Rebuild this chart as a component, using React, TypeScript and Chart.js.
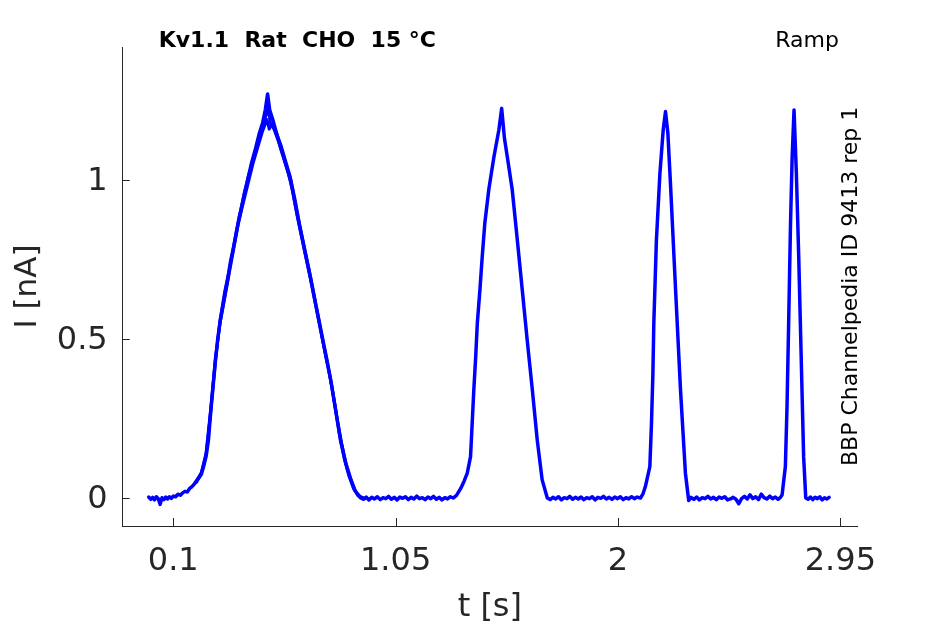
import { useEffect, useRef } from "react";
import { Chart, registerables } from "chart.js";

Chart.register(...registerables);

// ---- axis ticks ----
const xTickValues = [0.1, 1.05, 2, 2.95];
const xTickLabels = ["0.1", "1.05", "2", "2.95"];
const yTickValues = [0, 0.5, 1];
const yTickLabels = ["0", "0.5", "1"];

// ---- texts ----
const titleText = "Kv1.1  Rat  CHO  15 °C";
const protocolText = "Ramp";
const sideText = "BBP Channelpedia ID 9413 rep 1";
const xTitle = "t [s]";
const yTitle = "I [nA]";

// ---- data: [time s, current nA] ----
const pulse1Main: [number, number][] = [
  [-0.005, 0.003], [0.004, -0.004], [0.012, 0.002], [0.02, -0.006], [0.028, 0.004], [0.036, -0.002],
  [0.044, -0.02], [0.052, 0.001], [0.06, -0.005], [0.068, 0.003], [0.076, -0.003], [0.084, 0.004],
  [0.092, -0.001], [0.1, 0.006], [0.11, 0.004], [0.12, 0.012], [0.13, 0.009], [0.14, 0.016],
  [0.15, 0.021], [0.16, 0.019], [0.17, 0.03], [0.18, 0.036], [0.19, 0.044], [0.2, 0.055],
  [0.21, 0.064], [0.22, 0.075], [0.23, 0.1], [0.24, 0.13], [0.25, 0.18], [0.26, 0.27],
  [0.27, 0.35], [0.28, 0.43], [0.29, 0.5], [0.3, 0.555], [0.311, 0.6], [0.322, 0.645],
  [0.333, 0.69], [0.345, 0.745], [0.358, 0.79], [0.372, 0.845], [0.388, 0.9], [0.403, 0.955],
  [0.418, 1.0], [0.435, 1.055], [0.452, 1.1], [0.467, 1.145], [0.482, 1.18], [0.493, 1.22],
  [0.503, 1.27], [0.512, 1.22], [0.525, 1.19], [0.54, 1.15], [0.559, 1.1], [0.58, 1.05],
  [0.601, 1.0], [0.622, 0.92], [0.644, 0.84], [0.665, 0.765], [0.687, 0.69], [0.708, 0.61],
  [0.73, 0.53], [0.752, 0.45], [0.773, 0.37], [0.795, 0.27], [0.815, 0.18], [0.837, 0.11],
  [0.858, 0.06], [0.875, 0.025], [0.89, 0.008], [0.901, 0.0],
];

const baseline1: [number, number][] = [
  [0.912, -0.004], [0.924, 0.003], [0.936, -0.006], [0.948, 0.002], [0.96, -0.003], [0.972, 0.004],
  [0.984, -0.005], [0.996, 0.001], [1.008, -0.002], [1.02, 0.005], [1.032, -0.004], [1.044, 0.002],
  [1.056, -0.006], [1.068, 0.003], [1.08, -0.001], [1.092, 0.004], [1.104, -0.005], [1.116, 0.002],
  [1.128, -0.003], [1.14, 0.006], [1.152, -0.002], [1.164, 0.001], [1.176, -0.005], [1.188, 0.003],
  [1.2, -0.002], [1.212, 0.005], [1.224, -0.004], [1.236, 0.002], [1.248, -0.006], [1.26, 0.001],
  [1.272, -0.003], [1.284, 0.004], [1.296, 0.0],
];

const pulse2: [number, number][] = [
  [1.31, 0.008], [1.328, 0.03], [1.342, 0.052], [1.356, 0.078], [1.37, 0.13], [1.377, 0.235],
  [1.384, 0.34], [1.392, 0.444], [1.399, 0.55], [1.41, 0.654], [1.42, 0.76], [1.431, 0.864],
  [1.448, 0.97], [1.47, 1.073], [1.491, 1.157], [1.503, 1.225], [1.515, 1.13], [1.527, 1.073],
  [1.548, 0.97], [1.57, 0.81], [1.591, 0.654], [1.612, 0.497], [1.634, 0.34], [1.655, 0.182],
  [1.676, 0.057], [1.698, 0.0],
];

const baseline2: [number, number][] = [
  [1.71, -0.005], [1.722, 0.002], [1.734, -0.003], [1.746, 0.004], [1.758, -0.006], [1.77, 0.001],
  [1.782, -0.002], [1.794, 0.005], [1.806, -0.004], [1.818, 0.002], [1.83, -0.003], [1.842, 0.003],
  [1.854, -0.005], [1.866, 0.001], [1.878, -0.002], [1.89, 0.004], [1.902, -0.006], [1.914, 0.002],
  [1.926, -0.001], [1.938, 0.005], [1.95, -0.003], [1.962, 0.002], [1.974, -0.004], [1.986, 0.003],
  [1.998, -0.002], [2.01, 0.004], [2.022, -0.005], [2.034, 0.001], [2.046, -0.003], [2.058, 0.004],
  [2.07, -0.002], [2.082, 0.003], [2.096, 0.0],
];

const pulse3: [number, number][] = [
  [2.106, 0.012], [2.117, 0.036], [2.136, 0.099], [2.143, 0.235], [2.149, 0.39], [2.153, 0.55],
  [2.164, 0.81], [2.179, 1.02], [2.193, 1.157], [2.203, 1.215], [2.213, 1.147], [2.224, 0.99],
  [2.246, 0.654], [2.267, 0.34], [2.288, 0.078], [2.302, -0.008],
];

const baseline3: [number, number][] = [
  [2.312, 0.002], [2.324, -0.004], [2.336, 0.003], [2.348, -0.006], [2.36, 0.001], [2.372, -0.002],
  [2.384, 0.005], [2.396, -0.003], [2.408, 0.002], [2.42, -0.005], [2.432, 0.003], [2.444, -0.001],
  [2.456, 0.004], [2.468, -0.006], [2.48, -0.003], [2.492, 0.002], [2.504, -0.004], [2.516, -0.018],
  [2.528, -0.002], [2.54, 0.005], [2.552, -0.003], [2.564, 0.01], [2.576, -0.002], [2.588, 0.004],
  [2.6, -0.005], [2.612, 0.012], [2.624, 0.001], [2.636, -0.003], [2.648, 0.006], [2.66, -0.002],
  [2.672, 0.003], [2.684, -0.004], [2.694, 0.002],
];

const pulse4: [number, number][] = [
  [2.701, 0.01], [2.715, 0.099], [2.722, 0.287], [2.729, 0.55], [2.737, 0.864], [2.744, 1.073],
  [2.752, 1.22], [2.762, 1.02], [2.772, 0.76], [2.779, 0.55], [2.786, 0.34], [2.793, 0.13],
  [2.802, 0.0],
];

const baseline4: [number, number][] = [
  [2.812, -0.004], [2.822, 0.003], [2.832, -0.005], [2.842, 0.002], [2.852, -0.002], [2.862, 0.004],
  [2.872, -0.006], [2.882, 0.001], [2.892, -0.003], [2.902, 0.002],
];

const pulse1SweepB: [number, number][] = [
  [0.2, 0.055], [0.22, 0.08], [0.24, 0.14], [0.26, 0.28], [0.28, 0.44], [0.3, 0.55],
  [0.32, 0.63], [0.34, 0.71], [0.36, 0.79], [0.38, 0.87], [0.4, 0.93], [0.42, 0.99],
  [0.44, 1.05], [0.46, 1.1], [0.48, 1.15], [0.5, 1.19], [0.51, 1.16], [0.52, 1.175],
  [0.54, 1.15], [0.56, 1.11], [0.58, 1.06], [0.6, 1.01], [0.62, 0.94], [0.64, 0.86],
  [0.66, 0.79], [0.68, 0.72], [0.7, 0.645], [0.72, 0.57], [0.74, 0.49], [0.76, 0.42],
  [0.78, 0.34], [0.8, 0.25], [0.82, 0.17], [0.84, 0.1], [0.86, 0.055], [0.88, 0.02],
  [0.9, 0.004], [0.92, -0.002],
];

const pulse1SweepC: [number, number][] = [
  [0.2, 0.05], [0.22, 0.078], [0.24, 0.135], [0.26, 0.27], [0.28, 0.43], [0.3, 0.56],
  [0.32, 0.65], [0.34, 0.72], [0.36, 0.8], [0.38, 0.88], [0.4, 0.945], [0.42, 1.01],
  [0.44, 1.06], [0.46, 1.12], [0.48, 1.17], [0.495, 1.2], [0.505, 1.225], [0.515, 1.18],
  [0.53, 1.16], [0.55, 1.12], [0.57, 1.075], [0.59, 1.025], [0.61, 0.965], [0.63, 0.885],
  [0.65, 0.815], [0.67, 0.745], [0.69, 0.675], [0.71, 0.6], [0.73, 0.525], [0.75, 0.45],
  [0.77, 0.38], [0.79, 0.295], [0.81, 0.2], [0.83, 0.125], [0.85, 0.07], [0.87, 0.03],
  [0.89, 0.008], [0.91, 0.0],
];

const mainTrace = [
  ...pulse1Main, ...baseline1, ...pulse2, ...baseline2,
  ...pulse3, ...baseline3, ...pulse4, ...baseline4,
];

const toPoints = (arr: [number, number][]) => arr.map(([x, y]) => ({ x, y }));

const TRACE_COLOR = "#0000ff";
const AXIS_COLOR = "#262626";
const FONT = "'DejaVu Sans', sans-serif";

const decorPlugin = {
  id: "decor",
  afterDraw(chart: any) {
    const { ctx, chartArea, scales } = chart;
    ctx.save();
    // inward tick marks
    ctx.strokeStyle = AXIS_COLOR;
    ctx.lineWidth = 1;
    ctx.beginPath();
    for (const v of xTickValues) {
      const px = Math.round(scales.x.getPixelForValue(v)) + 0.5;
      ctx.moveTo(px, chartArea.bottom);
      ctx.lineTo(px, chartArea.bottom - 8);
    }
    for (const v of yTickValues) {
      const py = Math.round(scales.y.getPixelForValue(v)) + 0.5;
      ctx.moveTo(chartArea.left, py);
      ctx.lineTo(chartArea.left + 7, py);
    }
    ctx.stroke();

    // title
    ctx.fillStyle = "#000000";
    ctx.textBaseline = "alphabetic";
    ctx.textAlign = "left";
    ctx.font = `bold 22px ${FONT}`;
    ctx.fillText(titleText, chartArea.left + 36, 47);

    ctx.font = `22px ${FONT}`;
    ctx.textAlign = "right";
    ctx.fillText(protocolText, chartArea.right - 18, 47);

    // vertical side text
    ctx.translate(chartArea.right, 466);
    ctx.rotate(-Math.PI / 2);
    ctx.textAlign = "left";
    ctx.font = `22px ${FONT}`;
    ctx.fillText(sideText, 0, 0);
    ctx.restore();
  },
};

export default function App() {
  const canvasRef = useRef<HTMLCanvasElement | null>(null);

  useEffect(() => {
    document.body.style.margin = "0";
    const canvas = canvasRef.current;
    if (!canvas) return;
    const lineStyle = {
      borderColor: TRACE_COLOR,
      pointRadius: 0,
      fill: false,
      tension: 0,
      borderJoinStyle: "round" as const,
      borderCapStyle: "round" as const,
    };
    const chart = new Chart(canvas, {
      type: "line",
      data: {
        datasets: [
          { ...lineStyle, data: toPoints(pulse1SweepB), borderWidth: 3 },
          { ...lineStyle, data: toPoints(pulse1SweepC), borderWidth: 3 },
          { ...lineStyle, data: toPoints(mainTrace), borderWidth: 3.5 },
        ],
      },
      options: {
        animation: false,
        responsive: false,
        devicePixelRatio: 1,
        layout: { padding: { top: 47, right: 88, left: 0, bottom: 0 } },
        plugins: {
          legend: { display: false },
          tooltip: { enabled: false },
          title: { display: false },
        },
        scales: {
          x: {
            type: "linear",
            min: -0.116,
            max: 3.021,
            afterBuildTicks: (scale: any) => {
              scale.ticks = xTickValues.map((v) => ({ value: v }));
            },
            afterFit: (scale: any) => {
              scale.height = 98;
            },
            grid: { display: false, drawTicks: false },
            border: { display: true, color: AXIS_COLOR, width: 1 },
            ticks: {
              color: AXIS_COLOR,
              font: { family: FONT, size: 32, lineHeight: 1.2 },
              padding: 16,
              maxRotation: 0,
              autoSkip: false,
              callback: (value: any) => {
                const i = xTickValues.indexOf(Number(value));
                return i >= 0 ? xTickLabels[i] : "";
              },
            },
            title: {
              display: true,
              text: xTitle,
              color: AXIS_COLOR,
              font: { family: FONT, size: 32, lineHeight: 1 },
              padding: { top: 0, bottom: 0 },
            },
          },
          y: {
            type: "linear",
            min: -0.088,
            max: 1.418,
            afterBuildTicks: (scale: any) => {
              scale.ticks = yTickValues.map((v) => ({ value: v }));
            },
            afterFit: (scale: any) => {
              scale.width = 122.7;
            },
            grid: { display: false, drawTicks: false },
            border: { display: true, color: AXIS_COLOR, width: 1 },
            ticks: {
              color: AXIS_COLOR,
              font: { family: FONT, size: 32, lineHeight: 1.2 },
              padding: 15,
              labelOffset: 2,
              autoSkip: false,
              callback: (value: any) => {
                const i = yTickValues.indexOf(Number(value));
                return i >= 0 ? yTickLabels[i] : "";
              },
            },
            title: {
              display: true,
              text: yTitle,
              color: AXIS_COLOR,
              font: { family: FONT, size: 31, lineHeight: 1 },
              padding: { top: 12, bottom: 0 },
            },
          },
        },
      },
      plugins: [decorPlugin],
    });
    return () => chart.destroy();
  }, []);

  return (
    <div style={{ position: "absolute", left: 0, top: 0, width: 945, height: 624, background: "#ffffff" }}>
      <canvas ref={canvasRef} width={945} height={624} style={{ width: 945, height: 624, display: "block" }} />
    </div>
  );
}
